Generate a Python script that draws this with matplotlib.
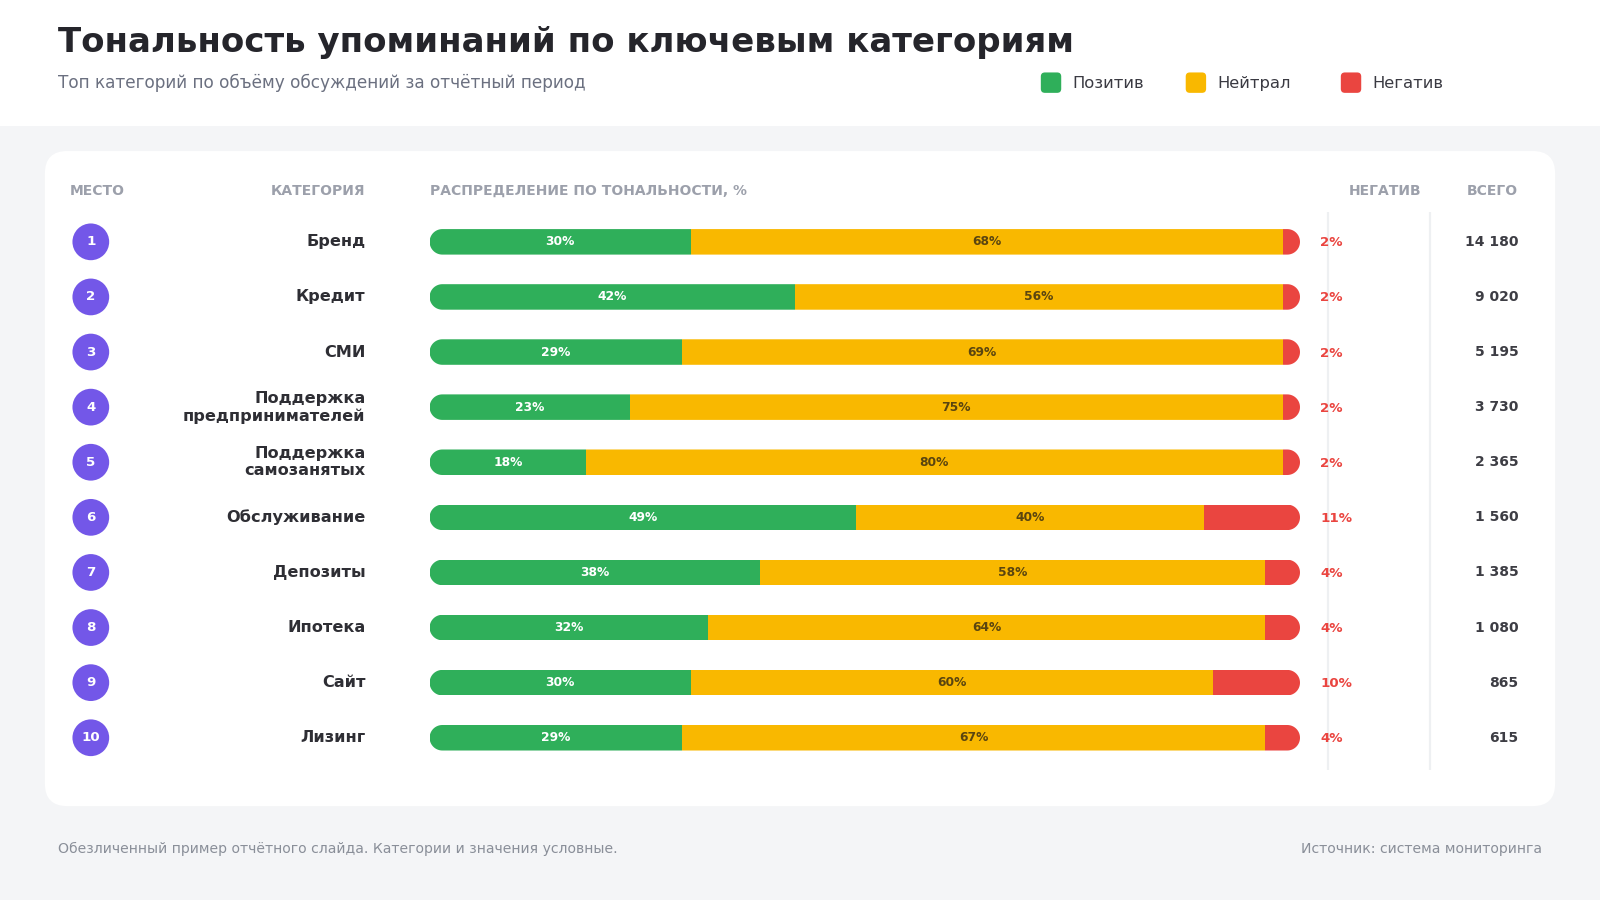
import numpy as np
import matplotlib
matplotlib.use("Agg")
import matplotlib.pyplot as plt
from matplotlib.patches import FancyBboxPatch, Rectangle, Circle, PathPatch
from matplotlib.path import Path

# ---------------- data ----------------
categories = ["Бренд", "Кредит", "СМИ", "Поддержка\nпредпринимателей",
              "Поддержка\nсамозанятых", "Обслуживание", "Депозиты",
              "Ипотека", "Сайт", "Лизинг"]
positive = [30, 42, 29, 23, 18, 49, 38, 32, 30, 29]
neutral = [68, 56, 69, 75, 80, 40, 58, 64, 60, 67]
negative = [2, 2, 2, 2, 2, 11, 4, 4, 10, 4]
totals = [14180, 9020, 5195, 3730, 2365, 1560, 1385, 1080, 865, 615]
ranks = list(range(1, 11))
legend_labels = ["Позитив", "Нейтрал", "Негатив"]
title = "Тональность упоминаний по ключевым категориям"
subtitle = "Топ категорий по объёму обсуждений за отчётный период"
col_headers = ["МЕСТО", "КАТЕГОРИЯ", "РАСПРЕДЕЛЕНИЕ ПО ТОНАЛЬНОСТИ, %", "НЕГАТИВ", "ВСЕГО"]
footer_left = "Обезличенный пример отчётного слайда. Категории и значения условные."
footer_right = "Источник: система мониторинга"

# ---------------- style ----------------
C_POS, C_NEU, C_NEG = "#2FAF5A", "#F9B800", "#EA4540"
C_PURPLE = "#7357E8"
C_BG = "#F4F5F7"
C_TITLE = "#25252B"
C_SUB = "#6B7080"
C_HEAD = "#9CA0AB"
C_LABEL = "#2E2E34"
C_TOTAL = "#3D3D44"
C_NEU_TXT = "#5A4510"
C_FOOT = "#8A8F99"
C_VLINE = "#EEF0F2"

W, H = 1568, 882
fig = plt.figure(figsize=(16, 9), dpi=100)
fig.patch.set_facecolor(C_BG)
ax = fig.add_axes([0, 0, 1, 1])
ax.set_xlim(0, W)
ax.set_ylim(H, 0)
ax.axis("off")


def pill_path(x, y, w, h):
    r = h / 2.0
    t1 = np.linspace(np.pi / 2, 3 * np.pi / 2, 40)
    t2 = np.linspace(-np.pi / 2, np.pi / 2, 40)
    left = np.column_stack([x + r + r * np.cos(t1), y + r - r * np.sin(t1)])
    right = np.column_stack([x + w - r + r * np.cos(t2), y + r - r * np.sin(t2)])
    pts = np.vstack([left, right, left[:1]])
    codes = [Path.MOVETO] + [Path.LINETO] * (len(pts) - 2) + [Path.CLOSEPOLY]
    return Path(pts, codes)


# header band and card
ax.add_patch(Rectangle((0, 0), W, 123, facecolor="white", edgecolor="none", zorder=0))
ax.add_patch(FancyBboxPatch((44, 148), 1480, 642, boxstyle="round,pad=0,rounding_size=22",
                            facecolor="white", edgecolor="none", zorder=0))

# title
ax.text(57, 42, title, fontsize=24.5, fontweight="bold", color=C_TITLE, va="center", ha="left")
ax.text(57, 81, subtitle, fontsize=12.2, color=C_SUB, va="center", ha="left")

# legend
leg_x = [1020, 1162, 1314]
for lx, lab, col in zip(leg_x, legend_labels, [C_POS, C_NEU, C_NEG]):
    ax.add_patch(FancyBboxPatch((lx, 71), 20, 20, boxstyle="round,pad=0,rounding_size=4",
                                facecolor=col, edgecolor="none"))
    ax.text(lx + 31, 81.5, lab, fontsize=11.8, color="#3A3A42", va="center", ha="left")

# column headers
hy = 187
hkw = dict(fontsize=10, fontweight="bold", color=C_HEAD, va="center")
ax.text(68, hy, col_headers[0], ha="left", **hkw)
ax.text(358, hy, col_headers[1], ha="right", **hkw)
ax.text(421, hy, col_headers[2], ha="left", **hkw)
ax.text(1393, hy, col_headers[3], ha="right", **hkw)
ax.text(1488, hy, col_headers[4], ha="right", **hkw)

# separators
for vx in (1301, 1401):
    ax.plot([vx, vx], [208, 755], color=C_VLINE, lw=1.6, zorder=1, solid_capstyle="butt")

# bar axes
BAR_L, BAR_W = 421, 853
ROW0, STEP = 237, 54
BAR_H = 25
top_px, bot_px = ROW0 - STEP / 2, ROW0 + STEP * 9.5
axb = fig.add_axes([BAR_L / W, 1 - bot_px / H, BAR_W / W, (bot_px - top_px) / H])
axb.set_xlim(0, 100)
axb.set_ylim(9.5, -0.5)
axb.axis("off")
axb.patch.set_alpha(0)

n = len(categories)
rows = list(range(n))
h = BAR_H / STEP
b1 = axb.barh(rows, positive, height=h, color=C_POS, linewidth=0)
b2 = axb.barh(rows, neutral, left=positive, height=h, color=C_NEU, linewidth=0)
left3 = [p + q for p, q in zip(positive, neutral)]
b3 = axb.barh(rows, negative, left=left3, height=h, color=C_NEG, linewidth=0)

for i in rows:
    yc = ROW0 + STEP * i
    clip = PathPatch(pill_path(BAR_L, yc - BAR_H / 2, BAR_W, BAR_H), transform=ax.transData)
    for bars in (b1, b2, b3):
        bars[i].set_clip_path(clip)
    axb.text(positive[i] / 2, i, f"{positive[i]}%", fontsize=8.8, fontweight="bold",
             color="white", ha="center", va="center")
    axb.text(positive[i] + neutral[i] / 2, i, f"{neutral[i]}%", fontsize=8.8,
             fontweight="bold", color=C_NEU_TXT, ha="center", va="center")

    # rank circle
    ax.add_patch(Circle((89, yc), 18, facecolor=C_PURPLE, edgecolor="none", zorder=2))
    ax.text(89, yc, str(ranks[i]), fontsize=9.6, fontweight="bold", color="white",
            ha="center", va="center", zorder=3)
    # category
    ax.text(358, yc, categories[i], fontsize=11.6, fontweight="bold", color=C_LABEL,
            ha="right", va="center", linespacing=1.2)
    # negative share
    ax.text(1294, yc + 1, f"{negative[i]}%", fontsize=9.6, fontweight="bold", color=C_NEG,
            ha="left", va="center", zorder=3)
    # totals
    ax.text(1488, yc, f"{totals[i]:,}".replace(",", " "), fontsize=10.0, fontweight="bold",
            color=C_TOTAL, ha="right", va="center")

# footer
ax.text(57, 832, footer_left, fontsize=10.1, color=C_FOOT, ha="left", va="center")
ax.text(1511, 832, footer_right, fontsize=10.1, color=C_FOOT, ha="right", va="center")

fig.savefig("out.png", dpi=100, facecolor=fig.get_facecolor())
